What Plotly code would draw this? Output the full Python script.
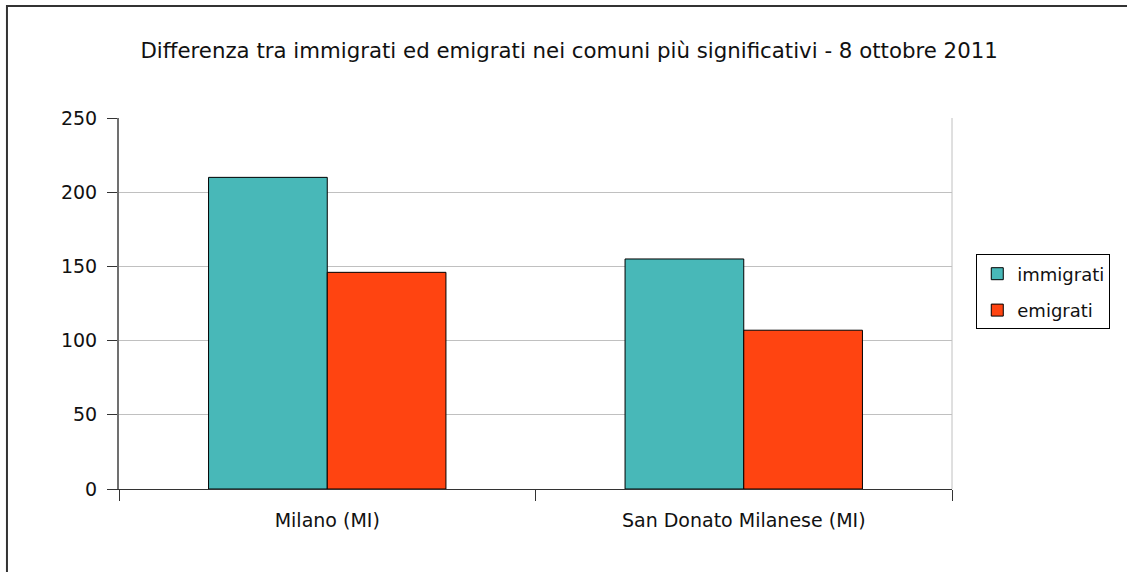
import plotly.graph_objects as go

comuni = ["Milano (MI)", "San Donato Milanese (MI)"]
immigrati = [210, 155]
emigrati = [146, 107]
y_ticks = [0, 50, 100, 150, 200, 250]

font = "DejaVu Sans, Verdana, sans-serif"

fig = go.Figure()
fig.add_trace(go.Bar(name="immigrati", x=comuni, y=immigrati, legendgroup="a",
                     marker=dict(color="#48B8B8", line=dict(color="#000000", width=1))))
fig.add_trace(go.Bar(name="emigrati", x=comuni, y=emigrati, legendgroup="b",
                     marker=dict(color="#FF4411", line=dict(color="#000000", width=1))))

fig.update_layout(
    width=1127, height=572,
    margin=dict(l=119, r=175, t=118, b=83),
    paper_bgcolor="white", plot_bgcolor="white",
    font=dict(family=font, size=19, color="#111111"),
    title=dict(text="Differenza tra immigrati ed emigrati nei comuni più significativi - 8 ottobre 2011",
               x=0.505, xanchor="center", y=0.912, yanchor="middle",
               font=dict(size=21.3)),
    barmode="group", bargap=0.43, bargroupgap=0,
    showlegend=True,
    legend=dict(x=1.19, xanchor="right", y=0.531, yanchor="middle",
                bordercolor="#000000", borderwidth=1, bgcolor="white",
                font=dict(size=18), tracegroupgap=10, traceorder="grouped"),
    shapes=[
        # chart border
        dict(type="rect", xref="paper", yref="paper", x0=-0.1345, x1=1.5, y0=-0.5, y1=1.3019,
             line=dict(color="#333333", width=2), layer="below"),
        # right edge of plot area
        dict(type="line", xref="paper", yref="paper", x0=1, x1=1, y0=0, y1=1,
             line=dict(color="#C0C0C0", width=1)),
    ],
)

fig.update_xaxes(showline=True, linecolor="#333333", linewidth=1,
                 ticks="outside", tickson="boundaries", ticklen=11, tickcolor="#333333",
                 ticklabelstandoff=14, showgrid=False)
fig.update_yaxes(range=[0, 250], tickvals=y_ticks, showline=True, linecolor="#707070", linewidth=2,
                 ticks="outside", ticklen=10, tickcolor="#333333",
                 gridcolor="#C0C0C0", gridwidth=1, zeroline=False, ticklabelstandoff=6)

fig.write_html("out.html", config={"responsive": False, "displayModeBar": False},
               post_script="document.body.style.margin='0';document.body.style.overflow='hidden';")
